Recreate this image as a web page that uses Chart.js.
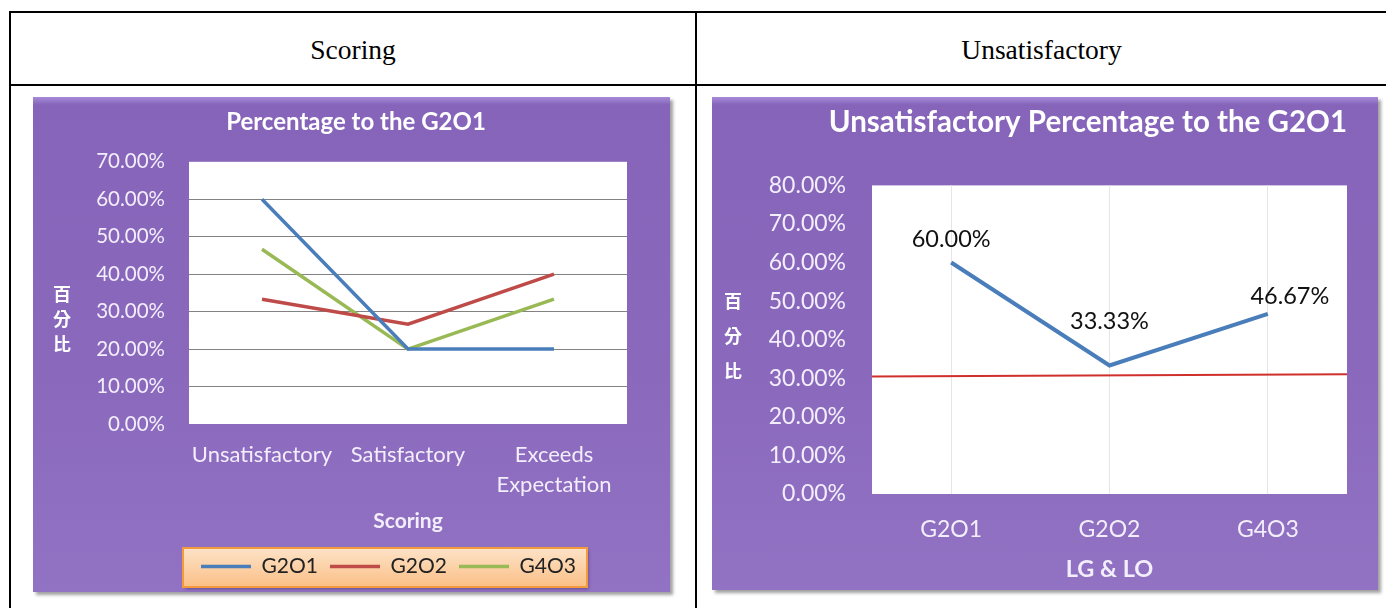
<!DOCTYPE html>
<html>
<head>
<meta charset="utf-8">
<script src="https://cdn.jsdelivr.net/npm/chart.js@4.4.1/dist/chart.umd.min.js"></script>
<style>
  html, body { margin: 0; padding: 0; background: #fff; }
  body { width: 1386px; height: 608px; position: relative; overflow: hidden; }
  .rule { position: absolute; background: #000; }
  .head { position: absolute; top: 34px; line-height: 32px; font-family: "Liberation Serif", serif; font-size: 27.5px; color: #000; text-align: center; }
  .panel {
    position: absolute;
    background: linear-gradient(#a78ad8 0px, #8564b9 8px, #8a69bd 55%, #9272c3 100%);
    box-shadow: 3px 3px 3px rgba(70, 70, 70, 0.5);
  }
  .panel canvas { position: absolute; left: 0; top: 0; }
  .ytitle { position: absolute; color: #fff; font-family: "Noto Sans CJK TC", sans-serif; font-weight: bold; font-size: 18px; text-align: center; }
</style>
</head>
<body>
<div class="rule" style="left:9px;top:11px;width:1377px;height:2px"></div>
<div class="rule" style="left:9px;top:84px;width:1377px;height:2px"></div>
<div class="rule" style="left:9px;top:11px;width:2px;height:597px"></div>
<div class="rule" style="left:695px;top:11px;width:2px;height:597px"></div>
<div class="head" style="left:11px;width:684px">Scoring</div>
<div class="head" style="left:697px;width:689px">Unsatisfactory</div>

<div class="panel" style="left:33px;top:97px;width:637px;height:495px">
  <canvas id="scoring" width="637" height="495"></canvas>
  <div class="ytitle" style="left:19px;top:184px;width:20px;line-height:25px">百<br>分<br>比</div>
</div>
<div class="panel" style="left:712px;top:97px;width:666px;height:493px">
  <canvas id="unsat" width="666" height="493"></canvas>
  <div class="ytitle" style="left:11px;top:186px;width:20px;line-height:35px">百<br>分<br>比</div>
</div>

<script>
// 两张 Excel 风格折线图：左边三条线（按评分），右边 Unsatisfactory + 红色参考线

const scoreLabels = ["Unsatisfactory", "Satisfactory", ["Exceeds", "Expectation"]];
const seriesNames = ["G2O1", "G2O2", "G4O3"];
const g2o1Values = [60, 20, 20];
const g2o2Values = [33.33, 26.67, 40];
const g4o3Values = [46.67, 20, 33.33];

const groupLabels = ["G2O1", "G2O2", "G4O3"];
const unsatValues = [60, 33.33, 46.67];
// red reference line, value at the left and right edge of the plot
const refLineX = [0, 3];
const refLineY = [30.45, 31.05];

const FONT = "Lato, 'Open Sans', sans-serif";
const TICK_COLOR = "#f3eefb";
const pct = (v) => Number(v).toFixed(2) + "%";

Chart.defaults.font.family = FONT;
Chart.defaults.animation = false;

const whitePlot = {
  id: "whitePlot",
  beforeDraw(chart) {
    const { ctx, chartArea: a } = chart;
    ctx.save();
    ctx.fillStyle = "#fff";
    ctx.fillRect(a.left, a.top, a.right - a.left, a.bottom - a.top);
    ctx.restore();
  },
};

// fundo laranja atrás da legenda, como no Excel
const legendFrame = {
  id: "legendFrame",
  beforeDraw(chart) {
    const boxes = chart.legend && chart.legend.legendHitBoxes;
    if (!boxes || !boxes.length) return;
    const left = Math.min(...boxes.map((b) => b.left)) - 18;
    const right = Math.max(...boxes.map((b) => b.left + b.width)) + 11;
    const top = boxes[0].top - 8;
    const bottom = boxes[0].top + boxes[0].height + 10;
    const ctx = chart.ctx;
    const g = ctx.createLinearGradient(0, top, 0, bottom);
    g.addColorStop(0, "#fde3c8");
    g.addColorStop(1, "#fbbf86");
    ctx.save();
    ctx.shadowColor = "rgba(60,40,90,0.5)";
    ctx.shadowOffsetX = 2;
    ctx.shadowOffsetY = 2;
    ctx.shadowBlur = 3;
    ctx.fillStyle = g;
    ctx.fillRect(left, top, right - left, bottom - top);
    ctx.shadowColor = "transparent";
    ctx.strokeStyle = "#f39a3c";
    ctx.lineWidth = 2;
    ctx.strokeRect(left, top, right - left, bottom - top);
    ctx.restore();
  },
};

const pointLabels = {
  id: "pointLabels",
  afterDatasetsDraw(chart, args, opts) {
    const ctx = chart.ctx;
    const meta = chart.getDatasetMeta(0);
    const values = chart.data.datasets[0].data;
    ctx.save();
    ctx.font = `23.5px ${FONT}`;
    ctx.fillStyle = "#111";
    ctx.textAlign = "center";
    ctx.textBaseline = "middle";
    meta.data.forEach((pt, i) => {
      ctx.fillText(pct(values[i]), pt.x + opts.dx[i], pt.y + opts.dy[i]);
    });
    ctx.restore();
  },
};

new Chart(document.getElementById("scoring"), {
  type: "line",
  data: {
    labels: scoreLabels,
    datasets: [
      { label: seriesNames[0], data: g2o1Values, borderColor: "#4a7ebb", backgroundColor: "#4a7ebb" },
      { label: seriesNames[1], data: g2o2Values, borderColor: "#be4b48", backgroundColor: "#be4b48" },
      { label: seriesNames[2], data: g4o3Values, borderColor: "#98b954", backgroundColor: "#98b954" },
    ].map((d) => ({ ...d, borderWidth: 3.5, pointRadius: 0, tension: 0 })),
  },
  plugins: [whitePlot, legendFrame],
  options: {
    responsive: false,
    layout: { padding: { left: 52, right: 43, top: 0, bottom: 5 } },
    plugins: {
      tooltip: { enabled: false },
      title: {
        display: true,
        text: "Percentage to the G2O1",
        color: "#fff",
        font: { size: 24, weight: "bold" },
        padding: { top: 11, bottom: 25 },
      },
      legend: {
        position: "bottom",
        fullSize: false,
        align: "start",
        labels: {
          color: "#222",
          font: { size: 21 },
          usePointStyle: true,
          pointStyle: "line",
          pointStyleWidth: 50,
          padding: 12,
        },
      },
    },
    scales: {
      x: {
        offset: true,
        afterFit: (s) => { s.height = 120; },
        grid: { display: false, drawTicks: false },
        border: { display: false },
        ticks: { color: TICK_COLOR, font: { size: 22, lineHeight: 1.36 }, padding: 16, maxRotation: 0 },
        title: { display: true, text: "Scoring", color: TICK_COLOR, font: { size: 21, weight: "bold" }, padding: { top: 0, bottom: 10 } },
      },
      y: {
        min: 0,
        max: 70,
        afterFit: (s) => { s.width = 104; },
        grid: {
          drawTicks: false,
          color: (c) => (c.tick.value === 0 || c.tick.value === 70 ? "transparent" : "#828282"),
        },
        border: { display: false },
        ticks: { stepSize: 10, color: TICK_COLOR, font: { size: 20.5 }, padding: 24, callback: pct },
      },
    },
  },
});

new Chart(document.getElementById("unsat"), {
  type: "line",
  data: {
    labels: groupLabels,
    datasets: [
      {
        label: "Unsatisfactory",
        data: unsatValues,
        borderColor: "#4a7ebb",
        borderWidth: 4,
        pointRadius: 0,
        tension: 0,
      },
      {
        label: "ref",
        data: refLineX.map((x, i) => ({ x, y: refLineY[i] })),
        xAxisID: "xr",
        borderColor: "#d0302c",
        borderWidth: 2,
        pointRadius: 0,
        tension: 0,
      },
    ],
  },
  plugins: [whitePlot, pointLabels],
  options: {
    responsive: false,
    layout: { padding: { left: 40, right: 31, top: 0, bottom: 0 } },
    plugins: {
      tooltip: { enabled: false },
      legend: { display: false },
      title: {
        display: true,
        align: "end",
        text: "Unsatisfactory Percentage to the G2O1",
        color: "#fff",
        font: { size: 29.5, weight: "bold" },
        padding: { top: 8, bottom: 45 },
      },
      pointLabels: { dx: [0, 0, 22], dy: [-23, -44, -18] },
    },
    scales: {
      x: {
        offset: true,
        afterFit: (s) => { s.height = 96; },
        grid: { display: true, drawTicks: false, color: "#e6e6e6" },
        border: { display: false },
        ticks: { color: TICK_COLOR, font: { size: 23 }, padding: 22 },
        title: { display: true, text: "LG & LO", color: TICK_COLOR, font: { size: 23.5, weight: "bold" }, padding: { top: 0, bottom: 6 } },
      },
      xr: { type: "linear", min: 0, max: 3, display: false },
      y: {
        min: 0,
        max: 80,
        afterFit: (s) => { s.width = 120; },
        grid: { display: false },
        border: { display: false },
        ticks: { stepSize: 10, color: TICK_COLOR, font: { size: 23 }, padding: 18, callback: pct },
      },
    },
  },
});
</script>
</body>
</html>
